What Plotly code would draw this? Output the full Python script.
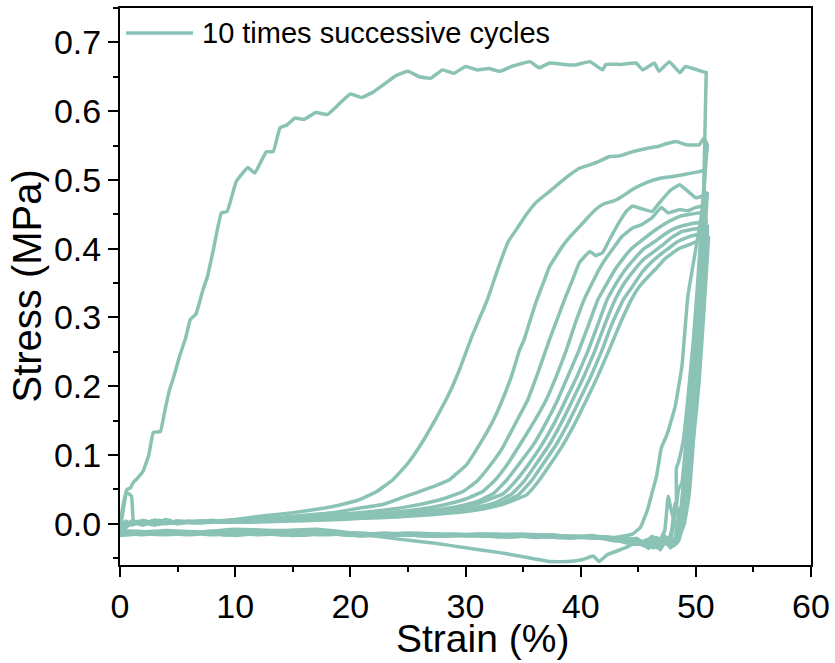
import plotly.graph_objects as go

# ---------------- data (strain %, stress MPa) ----------------
c1_load_strain = [0, 0.3, 0.6, 0.9, 1.15, 1.5, 2.0, 2.5, 2.9, 3.5, 3.9, 4.3, 4.6, 5.2, 5.7, 6.1, 6.6, 7.2, 7.6, 8.1,
                  8.8, 9.3, 10.1, 11.1, 11.7, 12.7, 13.3, 13.9, 14.5, 15.2, 16.0, 17.0, 18.0, 19.0, 20.0, 21.0, 22.0,
                  23.0, 24.0, 25.0, 26.0, 27.0, 28.0, 29.0, 30.0, 31.0, 32.0, 33.0, 34.0, 35.6, 36.4, 37.3, 38.5,
                  39.5, 40.8, 41.9, 42.2, 43.5, 44.8, 45.4, 46.4, 46.8, 47.7, 48.6, 49.1, 50.3, 50.9]
c1_load_stress = [0, 0.03, 0.05, 0.052, 0.06, 0.066, 0.076, 0.1, 0.133, 0.134, 0.165, 0.195, 0.21, 0.245, 0.27, 0.297,
                  0.305, 0.34, 0.36, 0.398, 0.452, 0.454, 0.498, 0.518, 0.51, 0.541, 0.541, 0.576, 0.58, 0.59, 0.588,
                  0.598, 0.595, 0.61, 0.625, 0.62, 0.628, 0.64, 0.652, 0.658, 0.65, 0.648, 0.66, 0.655, 0.665, 0.66,
                  0.662, 0.658, 0.665, 0.672, 0.663, 0.67, 0.668, 0.667, 0.672, 0.66, 0.668, 0.668, 0.67, 0.66, 0.67,
                  0.658, 0.672, 0.656, 0.665, 0.659, 0.656]
c1_unload_strain = [50.9, 50.7, 50.5, 50.3, 50.0, 49.7, 49.4, 49.0, 48.5, 47.5, 46.5, 45.5, 44.5, 44.0, 43.1, 42.3,
                    41.6, 41.1, 40.2, 39.0, 37.3, 35, 33, 30, 27.2, 24, 21.4, 17.1, 14, 10, 7, 4, 2, 0]
c1_unload_stress = [0.656, 0.5, 0.38, 0.283, 0.18, 0.1, 0.04, 0.0, -0.02, -0.025, -0.028, -0.03, -0.03, -0.034,
                    -0.04, -0.045, -0.055, -0.047, -0.052, -0.055, -0.055, -0.048, -0.042, -0.035, -0.028, -0.022,
                    -0.016, -0.008, -0.01, -0.008, -0.012, -0.01, -0.012, -0.01]

c2_load_strain = [0, 0.6, 1.0, 1.2, 2, 3, 4, 5, 6, 8.4, 10, 12.7, 15, 17.1, 19, 20.8, 22.3, 23.7, 25, 26.3, 27.5,
                  28.6, 29.5, 30.5, 31.9, 32.8, 33.7, 34.5, 35.3, 36.1, 37.2, 38.2, 39.1, 39.9, 40.8, 41.6, 42.5,
                  43.4, 44.5, 45.5, 46.8, 47.5, 48.3, 49.2, 50.3, 50.7, 51.0]
c2_load_stress = [-0.01, 0.045, 0.04, 0.0, 0.002, -0.002, 0.004, 0.0, 0.003, 0.004, 0.006, 0.012, 0.016, 0.021,
                  0.027, 0.035, 0.047, 0.064, 0.088, 0.12, 0.155, 0.19, 0.225, 0.27, 0.326, 0.37, 0.41, 0.43, 0.45,
                  0.467, 0.482, 0.496, 0.508, 0.517, 0.522, 0.527, 0.534, 0.535, 0.541, 0.545, 0.549, 0.553, 0.556,
                  0.551, 0.551, 0.561, 0.551]
c2_unload_strain = [51.0, 50.5, 50.0, 49.3, 48.8, 48.2, 47.5, 47.0, 46.6, 46.2, 45.8, 45.2, 44.5, 43, 41, 40, 38,
                    35, 30, 25, 20, 15, 10, 5, 0]
c2_unload_stress = [0.551, 0.45, 0.40, 0.33, 0.23, 0.17, 0.13, 0.11, 0.07, 0.045, 0.02, -0.005, -0.015, -0.02,
                    -0.018, -0.02, -0.018, -0.015, -0.016, -0.014, -0.016, -0.013, -0.015, -0.012, -0.014]

c3_load_strain = [0, 1, 2, 3, 4, 5, 7, 9, 11, 13, 15, 18.5, 20.5, 22.8, 24.5, 25.7, 27.2, 28.6, 30.1, 31.5, 32.4,
                  33.2, 34.0, 34.7, 35.1, 35.6, 36.2, 36.8, 37.3, 38.4, 39.1, 39.9, 40.6, 41.3, 42.0, 42.8, 43.6,
                  44.6, 45.7, 46.8, 48.0, 49.0, 50.3, 50.8]
c3_load_stress = [-0.008, 0.002, -0.002, 0.004, 0.0, 0.004, 0.002, 0.004, 0.006, 0.008, 0.011, 0.016, 0.022, 0.028,
                  0.038, 0.045, 0.054, 0.064, 0.086, 0.123, 0.15, 0.18, 0.215, 0.253, 0.268, 0.295, 0.326, 0.352,
                  0.374, 0.403, 0.418, 0.432, 0.445, 0.457, 0.465, 0.469, 0.476, 0.487, 0.496, 0.502, 0.505, 0.508,
                  0.512, 0.515]
c3_unload_strain = [50.8, 50.5, 50.1, 49.6, 49.1, 48.7, 48.4, 48.0, 47.4, 46.8, 46.0, 45.0, 44.0, 42.5, 41.0, 39.5,
                    37.5, 35, 32, 29, 26, 23, 20, 17, 14, 11, 8, 5, 2.5, 0]
c3_unload_stress = [0.515, 0.40, 0.30, 0.19, 0.09, 0.02, -0.01, -0.03, -0.02, -0.033, -0.022, -0.028, -0.02,
                    -0.023, -0.017, -0.02, -0.016, -0.018, -0.015, -0.017, -0.014, -0.016, -0.013, -0.016, -0.012,
                    -0.015, -0.011, -0.015, -0.012, -0.015]

c4_load_strain = [0, 0.5, 1, 2, 3, 4, 5, 6, 7, 8, 9, 10, 12, 14, 16, 18, 20, 22, 24, 26, 28, 29.8, 31, 32.1, 33.2,
                  34.4, 35.4, 36.3, 37.3, 38.6, 39.3, 39.9, 40.8, 41.3, 41.9, 42.5, 43.4, 44.0, 44.5, 45.3, 46.2,
                  47.0, 47.8, 48.6, 49.2, 50.0, 50.5, 51.0]
c4_load_stress = [-0.008, 0.004, -0.002, 0.005, 0.0, 0.006, 0.001, 0.004, 0.002, 0.005, 0.003, 0.004, 0.006, 0.007,
                  0.009, 0.012, 0.015, 0.018, 0.022, 0.028, 0.036, 0.047, 0.062, 0.084, 0.11, 0.148, 0.18, 0.22, 0.268,
                  0.326, 0.355, 0.38, 0.396, 0.39, 0.394, 0.413, 0.44, 0.455, 0.462, 0.458, 0.454, 0.47, 0.485, 0.493,
                  0.485, 0.474, 0.476, 0.482]
c4_unload_strain = [51.0, 50.6, 50.2, 49.8, 49.4, 49.0, 48.7, 48.3, 47.8, 47.2, 46.6, 45.8, 44.8, 43.5, 42, 40, 38,
                    35, 32, 29, 26, 23, 20, 17, 14, 11, 8, 5, 2, 0]
c4_unload_stress = [0.482, 0.37, 0.27, 0.17, 0.09, 0.03, -0.005, -0.025, -0.035, -0.022, -0.035, -0.024, -0.03,
                    -0.022, -0.02, -0.018, -0.019, -0.016, -0.018, -0.015, -0.017, -0.014, -0.016, -0.013, -0.016,
                    -0.012, -0.015, -0.012, -0.016, -0.013]

c5_load_strain = [0, 1, 2, 3, 4, 5, 6, 8, 10, 12, 14, 16, 18, 20, 22, 24, 26, 28, 30, 31.5, 32.6, 33.7, 34.8, 35.9,
                  37.0, 37.9, 38.7, 39.5, 40.3, 41.0, 41.6, 42.2, 42.8, 43.6, 44.5, 45.3, 46.2, 47.0, 47.6, 48.6,
                  49.3, 50.0, 50.6]
c5_load_stress = [-0.01, 0.003, -0.001, 0.005, 0.001, 0.004, 0.002, 0.003, 0.005, 0.006, 0.007, 0.008, 0.01, 0.012,
                  0.014, 0.017, 0.021, 0.027, 0.036, 0.047, 0.064, 0.088, 0.117, 0.147, 0.18, 0.215, 0.25, 0.29,
                  0.326, 0.35, 0.37, 0.386, 0.40, 0.418, 0.43, 0.435, 0.445, 0.46, 0.452, 0.457, 0.455, 0.46, 0.462]
c5_unload_strain = [50.6, 50.2, 49.8, 49.3, 48.9, 48.5, 48.3, 48.3, 48.0, 47.6, 47.3, 46.8, 46.2, 45.5, 44.5, 43,
                    41, 39, 36, 33, 30, 27, 24, 21, 18, 15, 12, 9, 6, 3, 0]
c5_unload_stress = [0.462, 0.36, 0.27, 0.18, 0.12, 0.09, 0.08, 0.016, 0.01, 0.04, -0.01, -0.025, -0.018, -0.03,
                    -0.022, -0.025, -0.018, -0.021, -0.017, -0.019, -0.016, -0.018, -0.015, -0.017, -0.014, -0.017,
                    -0.013, -0.016, -0.012, -0.015, -0.014]

c6_load_strain = [0, 1, 2, 3, 4, 5, 7, 9, 11, 13, 15, 17, 19, 21, 23, 25, 27, 29, 31, 32.5, 33.6, 34.7, 35.9, 37.0,
                  38.0, 38.9, 39.8, 40.7, 41.5, 42.3, 43.0, 43.7, 44.4, 45.3, 46.3, 47.5, 48.6, 49.5, 50.3, 50.8]
c6_load_stress = [-0.012, 0.002, 0.004, -0.001, 0.003, 0.001, 0.004, 0.002, 0.004, 0.005, 0.006, 0.008, 0.009,
                  0.011, 0.013, 0.016, 0.019, 0.024, 0.032, 0.045, 0.064, 0.088, 0.115, 0.147, 0.18, 0.215, 0.25,
                  0.29, 0.326, 0.35, 0.37, 0.386, 0.40, 0.412, 0.425, 0.438, 0.447, 0.45, 0.452, 0.455]
c6_unload_strain = [50.8, 50.4, 49.9, 49.5, 49.1, 48.8, 48.5, 48.1, 47.7, 47.3, 46.9, 46.4, 45.7, 44.8, 43.8, 42,
                    40, 37, 34, 31, 28, 25, 22, 19, 16, 13, 10, 7, 4, 1.5, 0]
c6_unload_stress = [0.455, 0.35, 0.25, 0.17, 0.11, 0.06, 0.05, 0.0, -0.028, -0.018, -0.032, -0.02, -0.03, -0.021,
                    -0.026, -0.019, -0.02, -0.017, -0.019, -0.015, -0.018, -0.014, -0.017, -0.013, -0.016, -0.012,
                    -0.016, -0.013, -0.015, -0.011, -0.014]

c7_load_strain = [0, 1, 2, 3, 5, 7, 9, 11, 13, 15, 17, 19, 21, 23, 25, 27, 29, 31, 33.3, 34.4, 35.5, 36.6, 37.7,
                  38.7, 39.7, 40.6, 41.5, 42.3, 43.1, 43.9, 44.7, 45.5, 46.4, 47.2, 48.0, 48.6, 49.5, 50.3, 50.9]
c7_load_stress = [-0.01, 0.004, 0.0, 0.005, 0.002, 0.003, 0.004, 0.003, 0.005, 0.006, 0.007, 0.009, 0.01, 0.012,
                  0.015, 0.018, 0.022, 0.029, 0.044, 0.063, 0.087, 0.114, 0.146, 0.18, 0.215, 0.25, 0.29, 0.326,
                  0.35, 0.37, 0.386, 0.40, 0.41, 0.42, 0.428, 0.432, 0.436, 0.438, 0.44]
c7_unload_strain = [50.9, 50.5, 50.0, 49.6, 49.2, 48.9, 48.6, 48.2, 47.8, 47.4, 46.9, 46.3, 45.5, 44.5, 43, 41, 38,
                    35, 32, 29, 26, 23, 20, 17, 14, 11, 8, 5, 2, 0]
c7_unload_stress = [0.44, 0.33, 0.23, 0.15, 0.08, 0.03, 0.02, -0.02, -0.035, -0.024, -0.038, -0.025, -0.032,
                    -0.023, -0.024, -0.019, -0.02, -0.016, -0.018, -0.016, -0.017, -0.014, -0.017, -0.013, -0.016,
                    -0.014, -0.016, -0.012, -0.015, -0.016]

c8_load_strain = [0, 1, 2, 3, 5, 7, 9, 11, 13, 15, 17, 19, 21, 23, 25, 27, 29, 31, 32.5, 34.0, 35.1, 36.1, 37.2,
                  38.3, 39.3, 40.3, 41.2, 42.1, 43.0, 43.8, 44.7, 45.5, 46.3, 47.1, 47.8, 48.8, 49.6, 50.4, 51.0]
c8_load_stress = [-0.011, 0.003, 0.001, 0.004, 0.002, 0.004, 0.003, 0.004, 0.005, 0.006, 0.007, 0.008, 0.01, 0.011,
                  0.013, 0.015, 0.019, 0.024, 0.03, 0.043, 0.062, 0.086, 0.113, 0.146, 0.18, 0.215, 0.25, 0.29,
                  0.326, 0.35, 0.37, 0.385, 0.395, 0.405, 0.415, 0.425, 0.428, 0.43, 0.432]
c8_unload_strain = [51.0, 50.6, 50.2, 49.8, 49.4, 49.0, 48.7, 48.4, 48.0, 47.5, 47.0, 46.5, 45.9, 45.0, 44.0, 42.5,
                    40, 37, 34, 31, 28, 25, 22, 19, 16, 13, 10, 7, 4, 0]
c8_unload_stress = [0.432, 0.33, 0.24, 0.16, 0.1, 0.05, 0.0, -0.02, -0.03, -0.02, -0.034, -0.022, -0.036, -0.024,
                    -0.028, -0.02, -0.019, -0.017, -0.019, -0.016, -0.018, -0.015, -0.017, -0.014, -0.016, -0.013,
                    -0.017, -0.013, -0.016, -0.014]

c9_load_strain = [0, 1, 2, 3, 5, 7, 9, 11, 13, 15, 17, 19, 21, 23, 25, 27, 29, 31, 33, 34.6, 35.7, 36.7, 37.8, 38.9,
                  39.9, 40.9, 41.8, 42.7, 43.7, 44.5, 45.3, 46.0, 46.8, 47.6, 48.4, 49.5, 50.5, 51.0]
c9_load_stress = [-0.012, 0.002, 0.0, 0.003, 0.001, 0.003, 0.002, 0.003, 0.004, 0.005, 0.006, 0.007, 0.009, 0.01,
                  0.012, 0.014, 0.017, 0.021, 0.029, 0.042, 0.062, 0.086, 0.113, 0.146, 0.18, 0.215, 0.25, 0.29,
                  0.326, 0.345, 0.365, 0.378, 0.39, 0.40, 0.41, 0.418, 0.422, 0.425]
c9_unload_strain = [51.0, 50.6, 50.1, 49.7, 49.3, 48.9, 48.6, 48.2, 47.9, 47.5, 47.0, 46.3, 45.5, 44.6, 43.2, 41,
                    39, 36, 33, 30, 27, 24, 21, 18, 15, 12, 9, 6, 3, 0]
c9_unload_stress = [0.425, 0.32, 0.22, 0.15, 0.09, 0.04, 0.01, 0.03, -0.01, -0.03, -0.022, -0.035, -0.026, -0.03,
                    -0.022, -0.021, -0.018, -0.02, -0.016, -0.018, -0.015, -0.017, -0.014, -0.016, -0.013, -0.016,
                    -0.012, -0.016, -0.013, -0.017]

c10_load_strain = [0, 1, 2, 3, 5, 7, 9, 11, 13, 15, 17, 19, 21, 23, 25, 27, 29, 31, 33, 35.3, 36.3, 37.3, 38.4,
                   39.5, 40.5, 41.5, 42.4, 43.4, 44.4, 45.1, 45.9, 46.6, 47.3, 48.0, 48.5, 49.3, 50.0, 50.6, 51.1]
c10_load_stress = [-0.013, 0.001, 0.002, -0.001, 0.002, 0.001, 0.003, 0.002, 0.003, 0.004, 0.005, 0.006, 0.008,
                   0.009, 0.011, 0.013, 0.016, 0.02, 0.027, 0.042, 0.061, 0.085, 0.113, 0.146, 0.18, 0.215, 0.25,
                   0.29, 0.326, 0.345, 0.36, 0.372, 0.385, 0.394, 0.40, 0.405, 0.41, 0.413, 0.415]
c10_unload_strain = [51.1, 50.7, 50.3, 49.9, 49.5, 49.1, 48.8, 48.5, 48.1, 47.7, 47.2, 46.6, 45.8, 44.8, 43.5, 41.5,
                     39, 36, 33, 30, 27, 24, 21, 18, 15, 12, 9, 6, 3, 0]
c10_unload_stress = [0.415, 0.31, 0.21, 0.14, 0.08, 0.03, -0.005, -0.025, -0.032, -0.02, -0.03, -0.02, -0.03,
                     -0.022, -0.025, -0.019, -0.02, -0.017, -0.019, -0.016, -0.018, -0.015, -0.018, -0.014, -0.017,
                     -0.013, -0.016, -0.012, -0.015, -0.012]

cycles = [
    (c1_load_strain, c1_load_stress, c1_unload_strain, c1_unload_stress),
    (c2_load_strain, c2_load_stress, c2_unload_strain, c2_unload_stress),
    (c3_load_strain, c3_load_stress, c3_unload_strain, c3_unload_stress),
    (c4_load_strain, c4_load_stress, c4_unload_strain, c4_unload_stress),
    (c5_load_strain, c5_load_stress, c5_unload_strain, c5_unload_stress),
    (c6_load_strain, c6_load_stress, c6_unload_strain, c6_unload_stress),
    (c7_load_strain, c7_load_stress, c7_unload_strain, c7_unload_stress),
    (c8_load_strain, c8_load_stress, c8_unload_strain, c8_unload_stress),
    (c9_load_strain, c9_load_stress, c9_unload_strain, c9_unload_stress),
    (c10_load_strain, c10_load_stress, c10_unload_strain, c10_unload_stress),
]

x_ticks = [0, 10, 20, 30, 40, 50, 60]
y_ticks = [0.0, 0.1, 0.2, 0.3, 0.4, 0.5, 0.6, 0.7]
x_title = "Strain (%)"
y_title = "Stress (MPa)"
legend_label = "10 times successive cycles"
line_color = "rgb(138,195,181)"
font_family = "Liberation Sans, Arial, sans-serif"

fig = go.Figure()
for ls, lst, us, ust in cycles:
    fig.add_trace(go.Scatter(x=ls + us, y=lst + ust, mode="lines",
                             line=dict(color=line_color, width=3.5, shape="spline", smoothing=0.3),
                             showlegend=False, hoverinfo="skip"))

axis_common = dict(showline=True, linecolor="black", linewidth=2, mirror=True,
                   ticks="outside", ticklen=10, tickwidth=2, tickcolor="black",
                   showgrid=False, zeroline=False, automargin=False,
                   tickfont=dict(family=font_family, size=34, color="black"))

fig.update_xaxes(range=[0, 60], tickvals=x_ticks, ticktext=[str(v) for v in x_ticks],
                 minor=dict(ticks="outside", ticklen=5, tickwidth=2, tickcolor="black", dtick=5, tick0=0),
                 **axis_common)
fig.update_yaxes(range=[-0.06, 0.75], tickvals=y_ticks, ticktext=[f"{v:.1f}" for v in y_ticks],
                 minor=dict(ticks="outside", ticklen=5, tickwidth=2, tickcolor="black", dtick=0.05, tick0=0),
                 **axis_common)

# axis titles
fig.add_annotation(xref="paper", yref="paper", x=0.525, y=-0.132, xanchor="center", yanchor="middle",
                   text=x_title, showarrow=False, font=dict(family=font_family, size=39, color="black"))
fig.add_annotation(xref="paper", yref="paper", x=-0.136, y=0.5, xanchor="center", yanchor="middle",
                   text=y_title, showarrow=False, textangle=-90,
                   font=dict(family=font_family, size=40, color="black"))

# legend drawn as a sample line plus text label
fig.add_shape(type="line", xref="paper", yref="paper", x0=0.0087, x1=0.1056, y0=0.955, y1=0.955,
              line=dict(color=line_color, width=3.5))
fig.add_annotation(xref="paper", yref="paper", x=0.1158, y=0.955, xanchor="left", yanchor="middle",
                   text=legend_label, showarrow=False,
                   font=dict(family=font_family, size=29, color="black"))

fig.update_layout(width=835, height=663, margin=dict(l=120, r=24, t=8, b=98),
                  plot_bgcolor="white", paper_bgcolor="white", showlegend=False)

fig.write_html("out.html", config={"displayModeBar": False},
               post_script="document.body.style.margin='0';document.body.style.overflow='hidden';")
